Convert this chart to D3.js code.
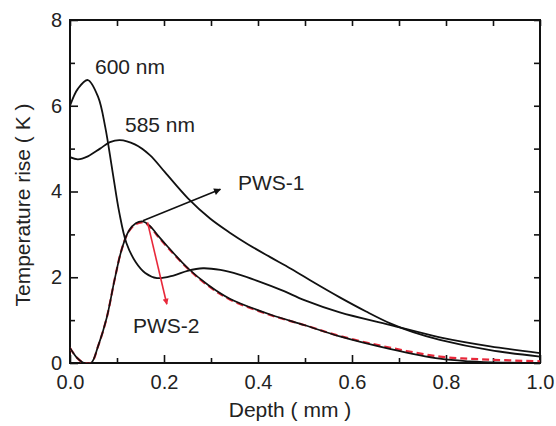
<!DOCTYPE html>
<html>
<head>
<meta charset="utf-8">
<script src="https://cdn.jsdelivr.net/npm/d3@7"></script>
<style>
  html, body { margin: 0; padding: 0; background: #fff; }
  svg { display: block; font-family: "Liberation Sans", Arial, Helvetica, sans-serif; }
</style>
</head>
<body>
<svg id="chart" width="556" height="426"></svg>
<script>
// ---- data ----
const depth600 = [0, 0.017, 0.038, 0.06, 0.075, 0.09, 0.105, 0.12, 0.14, 0.16, 0.185, 0.22, 0.25, 0.283, 0.32, 0.36, 0.4, 0.45, 0.5, 0.574, 0.68, 0.787, 0.894, 1.0];
const temp600  = [6.0, 6.4, 6.6, 6.2, 5.5, 4.5, 3.5, 2.8, 2.35, 2.1, 1.98, 2.04, 2.15, 2.21, 2.17, 2.06, 1.91, 1.7, 1.46, 1.18, 0.89, 0.6, 0.39, 0.23];

const depth585 = [0, 0.017, 0.038, 0.064, 0.085, 0.106, 0.138, 0.17, 0.202, 0.251, 0.298, 0.34, 0.38, 0.426, 0.47, 0.52, 0.574, 0.63, 0.68, 0.73, 0.787, 0.894, 1.0];
const temp585  = [4.8, 4.75, 4.82, 5.0, 5.15, 5.2, 5.1, 4.85, 4.45, 3.84, 3.37, 3.04, 2.76, 2.47, 2.2, 1.87, 1.53, 1.2, 0.93, 0.72, 0.54, 0.3, 0.15];

const depthPWS1 = [0, 0.015, 0.03, 0.045, 0.06, 0.078, 0.095, 0.11, 0.125, 0.14, 0.155, 0.17, 0.185, 0.209, 0.251, 0.294, 0.34, 0.426, 0.5, 0.574, 0.68, 0.787, 0.85, 0.92, 1.0];
const tempPWS1  = [0.35, 0.12, 0.0, 0.0, 0.4, 1.05, 1.95, 2.65, 3.08, 3.26, 3.3, 3.2, 3.0, 2.7, 2.21, 1.82, 1.5, 1.13, 0.88, 0.62, 0.33, 0.1, 0.04, 0.01, 0.0];

const depthPWS2 = [0, 0.015, 0.03, 0.045, 0.06, 0.078, 0.095, 0.11, 0.125, 0.14, 0.155, 0.17, 0.185, 0.209, 0.251, 0.294, 0.34, 0.426, 0.5, 0.574, 0.68, 0.787, 0.89, 1.0];
const tempPWS2  = [0.35, 0.12, 0.0, 0.0, 0.4, 1.05, 1.95, 2.65, 3.07, 3.24, 3.28, 3.18, 2.98, 2.68, 2.2, 1.8, 1.48, 1.12, 0.88, 0.63, 0.36, 0.15, 0.08, 0.04];

const xMajorTicks = [0.0, 0.2, 0.4, 0.6, 0.8, 1.0];
const xMinorTicks = [0.1, 0.3, 0.5, 0.7, 0.9];
const yMajorTicks = [0, 2, 4, 6, 8];
const yMinorTicks = [1, 3, 5, 7];

const xTitle = "Depth ( mm )";
const yTitle = "Temperature rise ( K )";

// ---- layout ----
const svg = d3.select("#chart");
const L = 70, R = 540, T = 20, B = 363;
const x = d3.scaleLinear().domain([0, 1]).range([L, R]);
const y = d3.scaleLinear().domain([0, 8]).range([B, T]);
const FS = 20;

svg.append("defs").append("clipPath").attr("id", "clip")
  .append("rect").attr("x", L).attr("y", T).attr("width", R - L).attr("height", B - T);

function styleAxis(g) {
  g.select(".domain").remove();
  g.selectAll("line").attr("stroke", "#111").attr("stroke-width", 1.6);
  g.selectAll("text").attr("font-size", FS).attr("fill", "#222")
    .attr("font-family", '"Liberation Sans", Arial, sans-serif');
}

// bottom axis
svg.append("g").attr("transform", `translate(0,${B})`)
  .call(d3.axisBottom(x).tickValues(xMajorTicks).tickSizeInner(-8).tickSizeOuter(0).tickPadding(12).tickFormat(d3.format(".1f")))
  .call(styleAxis);
svg.append("g").attr("transform", `translate(0,${B})`)
  .call(d3.axisBottom(x).tickValues(xMinorTicks).tickSizeInner(-5).tickSizeOuter(0).tickFormat(""))
  .call(styleAxis);
// top axis
svg.append("g").attr("transform", `translate(0,${T})`)
  .call(d3.axisTop(x).tickValues(xMajorTicks.concat(xMinorTicks)).tickSizeInner(-6).tickSizeOuter(0).tickFormat(""))
  .call(styleAxis);
// left axis
svg.append("g").attr("transform", `translate(${L},0)`)
  .call(d3.axisLeft(y).tickValues(yMajorTicks).tickSizeInner(-8).tickSizeOuter(0).tickPadding(8).tickFormat(d3.format("d")))
  .call(styleAxis);
svg.append("g").attr("transform", `translate(${L},0)`)
  .call(d3.axisLeft(y).tickValues(yMinorTicks).tickSizeInner(-5).tickSizeOuter(0).tickFormat(""))
  .call(styleAxis);
// right axis
svg.append("g").attr("transform", `translate(${R},0)`)
  .call(d3.axisRight(y).tickValues(yMajorTicks.concat(yMinorTicks)).tickSizeInner(-6).tickSizeOuter(0).tickFormat(""))
  .call(styleAxis);

// frame
svg.append("rect").attr("x", L).attr("y", T).attr("width", R - L).attr("height", B - T)
  .attr("fill", "none").attr("stroke", "#111").attr("stroke-width", 2);

// curves
const line = d3.line().x(d => x(d[0])).y(d => y(d[1])).curve(d3.curveCatmullRom.alpha(0.5));
const plot = svg.append("g").attr("clip-path", "url(#clip)");
function series(xs, ys) { return xs.map((v, i) => [v, ys[i]]); }

plot.append("path").datum(series(depthPWS2, tempPWS2)).attr("d", line)
  .attr("fill", "none").attr("stroke", "#e8283a").attr("stroke-width", 2.2).attr("stroke-dasharray", "7,4");
plot.append("path").datum(series(depthPWS1, tempPWS1)).attr("d", line)
  .attr("fill", "none").attr("stroke", "#111").attr("stroke-width", 1.7);
plot.append("path").datum(series(depth585, temp585)).attr("d", line)
  .attr("fill", "none").attr("stroke", "#111").attr("stroke-width", 1.8);
plot.append("path").datum(series(depth600, temp600)).attr("d", line)
  .attr("fill", "none").attr("stroke", "#111").attr("stroke-width", 1.8);

// arrows
const defs = svg.select("defs");
defs.append("marker").attr("id", "ahBlack").attr("viewBox", "0 0 10 10").attr("refX", 9).attr("refY", 5)
  .attr("markerWidth", 9).attr("markerHeight", 7).attr("markerUnits", "userSpaceOnUse").attr("orient", "auto")
  .append("path").attr("d", "M0,0 L10,5 L0,10 Z").attr("fill", "#111");
defs.append("marker").attr("id", "ahRed").attr("viewBox", "0 0 10 10").attr("refX", 9).attr("refY", 5)
  .attr("markerWidth", 8).attr("markerHeight", 6).attr("markerUnits", "userSpaceOnUse").attr("orient", "auto")
  .append("path").attr("d", "M0,0 L10,5 L0,10 Z").attr("fill", "#e8283a");

const arrowPWS1 = [[0.155, 3.32], [0.32, 4.05]];
const arrowPWS2 = [[0.165, 3.28], [0.206, 1.37]];
svg.append("line").attr("x1", x(arrowPWS1[0][0])).attr("y1", y(arrowPWS1[0][1]))
  .attr("x2", x(arrowPWS1[1][0])).attr("y2", y(arrowPWS1[1][1]))
  .attr("stroke", "#111").attr("stroke-width", 1.6).attr("marker-end", "url(#ahBlack)");
svg.append("line").attr("x1", x(arrowPWS2[0][0])).attr("y1", y(arrowPWS2[0][1]))
  .attr("x2", x(arrowPWS2[1][0])).attr("y2", y(arrowPWS2[1][1]))
  .attr("stroke", "#e8283a").attr("stroke-width", 1.6).attr("marker-end", "url(#ahRed)");

// labels
const labels = [
  { t: "600 nm", px: 95, py: 74 },
  { t: "585 nm", px: 125, py: 132 },
  { t: "PWS-1", px: 238, py: 190 },
  { t: "PWS-2", px: 133, py: 333 }
];
svg.selectAll("text.lab").data(labels).enter().append("text").attr("class", "lab")
  .attr("x", d => d.px).attr("y", d => d.py).attr("font-size", 21).attr("fill", "#222").text(d => d.t);

// axis titles
svg.append("text").attr("x", 290).attr("y", 417).attr("text-anchor", "middle")
  .attr("font-size", 21).attr("fill", "#222").text(xTitle);
svg.append("text").attr("transform", "translate(30,205) rotate(-90)").attr("text-anchor", "middle")
  .attr("font-size", 21).attr("fill", "#222").text(yTitle);
</script>
</body>
</html>
